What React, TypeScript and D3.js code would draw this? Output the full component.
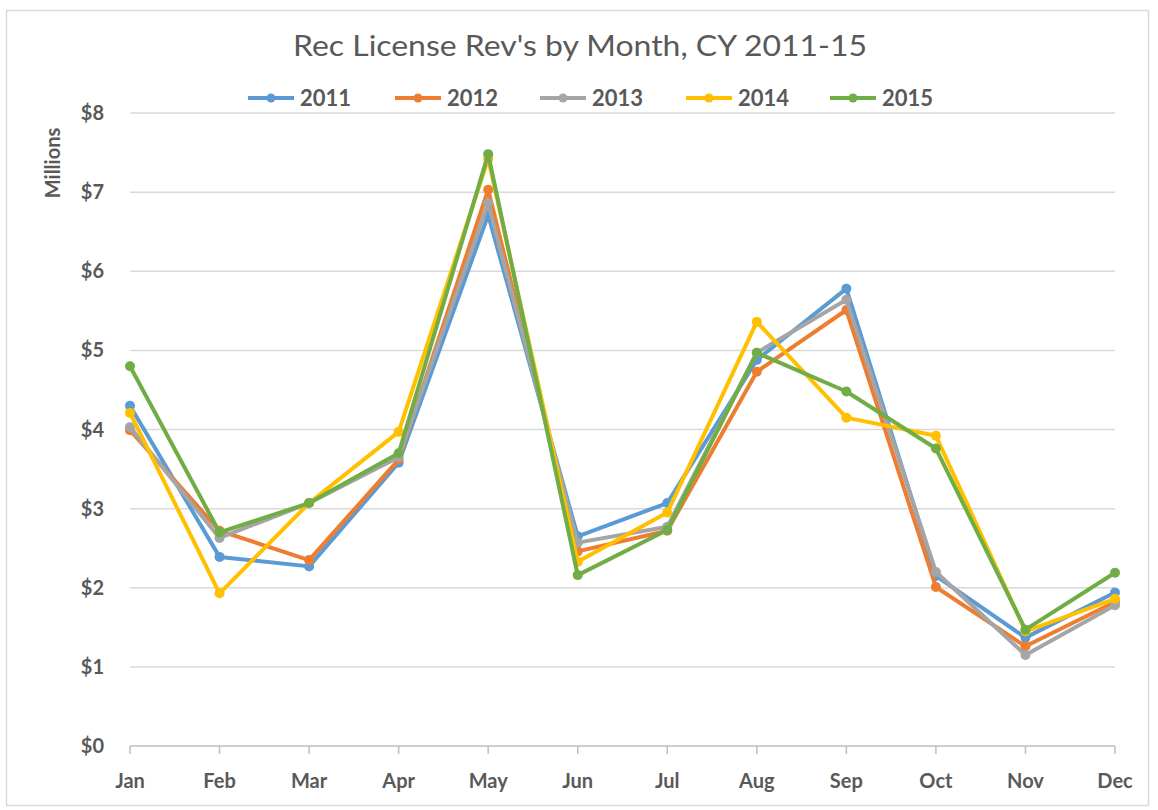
import React from "react";
import * as d3 from "d3";

const months = ["Jan", "Feb", "Mar", "Apr", "May", "Jun", "Jul", "Aug", "Sep", "Oct", "Nov", "Dec"];
const years = ["2011", "2012", "2013", "2014", "2015"];
const colors = ["#5B9BD5", "#ED7D31", "#A5A5A5", "#FFC000", "#70AD47"];

const rev2011 = [4.3, 2.39, 2.27, 3.58, 6.71, 2.65, 3.07, 4.88, 5.78, 2.15, 1.37, 1.94];
const rev2012 = [3.99, 2.72, 2.35, 3.62, 7.03, 2.46, 2.72, 4.73, 5.51, 2.01, 1.26, 1.82];
const rev2013 = [4.03, 2.63, 3.07, 3.65, 6.86, 2.57, 2.77, 4.97, 5.64, 2.2, 1.15, 1.78];
const rev2014 = [4.21, 1.93, 3.07, 3.97, 7.42, 2.33, 2.95, 5.36, 4.15, 3.92, 1.45, 1.86];
const rev2015 = [4.8, 2.7, 3.07, 3.7, 7.48, 2.16, 2.73, 4.97, 4.48, 3.76, 1.47, 2.19];
const seriesValues = [rev2011, rev2012, rev2013, rev2014, rev2015];

const yTicks = [0, 1, 2, 3, 4, 5, 6, 7, 8];
const title = "Rec License Rev's by Month, CY 2011-15";
const yAxisTitle = "Millions";

const FONT = "Lato, 'Open Sans', sans-serif";
const TEXT = "#595959";

export default function App() {
  const x = d3.scalePoint<string>().domain(months).range([130, 1115]);
  const y = d3.scaleLinear().domain([0, 8]).range([746, 113]);
  const line = d3
    .line<number>()
    .x((_, i) => x(months[i]) as number)
    .y((d) => y(d));

  const legendX = [248, 395, 540, 686, 830];

  return (
    <svg
      width={1158}
      height={810}
      style={{ position: "absolute", left: 0, top: 0, background: "#fff" }}
      fontFamily={FONT}
    >
      <rect x={6.5} y={10.5} width={1142} height={795} fill="#fff" stroke="#d9d9d9" strokeWidth={1.5} />
      <text x={580} y={56} textAnchor="middle" fontSize={28} fill={TEXT} textLength={574} lengthAdjust="spacingAndGlyphs">
        {title}
      </text>
      {years.map((yr, i) => (
        <g key={yr} transform={`translate(${legendX[i]},98)`}>
          <line x1={0} x2={46} y1={0} y2={0} stroke={colors[i]} strokeWidth={4} />
          <circle cx={23} cy={0} r={4.5} fill={colors[i]} />
          <text x={52} y={8} fontSize={22} fontWeight="bold" fill={TEXT}>
            {yr}
          </text>
        </g>
      ))}
      {yTicks.map((t) => (
        <g key={t}>
          {t > 0 && (
            <line x1={130} x2={1115} y1={y(t)} y2={y(t)} stroke="#d9d9d9" strokeWidth={1.5} />
          )}
          <text x={104} y={y(t) + 7} textAnchor="end" fontSize={20} fontWeight="bold" fill={TEXT}>
            {`$${t}`}
          </text>
        </g>
      ))}
      <text
        transform={`translate(60,163) rotate(-90)`}
        textAnchor="middle"
        fontSize={20}
        fontWeight="bold"
        fill={TEXT}
      >
        {yAxisTitle}
      </text>
      <line x1={130} x2={1115} y1={y(0)} y2={y(0)} stroke="#bfbfbf" strokeWidth={1.5} />
      {months.map((m) => (
        <g key={m}>
          <line x1={x(m)} x2={x(m)} y1={y(0)} y2={y(0) + 8} stroke="#bfbfbf" strokeWidth={1.5} />
          <text x={x(m)} y={788} textAnchor="middle" fontSize={20} fontWeight="bold" fill={TEXT}>
            {m}
          </text>
        </g>
      ))}
      {seriesValues.map((vals, si) => (
        <g key={years[si]}>
          <path d={line(vals) || ""} fill="none" stroke={colors[si]} strokeWidth={4} strokeLinejoin="round" />
          {vals.map((v, i) => (
            <circle key={i} cx={x(months[i])} cy={y(v)} r={5} fill={colors[si]} />
          ))}
        </g>
      ))}
    </svg>
  );
}
